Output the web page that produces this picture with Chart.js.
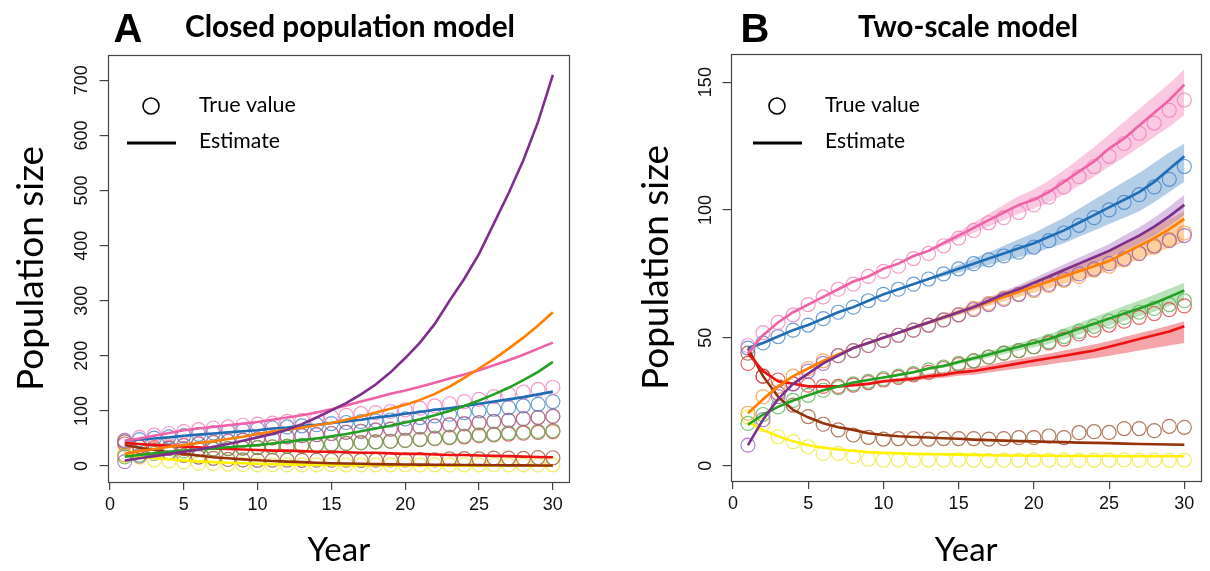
<!DOCTYPE html>
<html><head><meta charset="utf-8">
<script src="https://cdn.jsdelivr.net/npm/chart.js@4.4.1/dist/chart.umd.min.js"></script>
<style>
html,body{margin:0;padding:0;background:#fff;}
#wrap{position:relative;width:1210px;height:571px;overflow:hidden;background:#fff;}
canvas{position:absolute;top:0;}
</style></head><body>
<div id="wrap">
<canvas id="cA" width="605" height="571" style="left:0;width:605px;height:571px"></canvas>
<canvas id="cB" width="605" height="571" style="left:605px;width:605px;height:571px"></canvas>
</div>
<script>
// ---------- data ----------
const years = [1,2,3,4,5,6,7,8,9,10,11,12,13,14,15,16,17,18,19,20,21,22,23,24,25,26,27,28,29,30];
const xTicks = [0,5,10,15,20,25,30];
const yTicksA = [0,100,200,300,400,500,600,700];
const yTicksB = [0,50,100,150];

// true population sizes (circles, same in both panels)
const pinkTrue   = [47,52,56,59,63,66,69,71,74,76,78,81,83,86,89,92,95,97,99,102,105,109,113,117,121,126,130,134,139,143];
const blueTrue   = [46,48,50.5,53,55,57.5,60,62,64.5,67,69,71,73,75,77,79,80.5,82,83.5,85.5,88,91,94,97,100,103,106,109,112,117];
const purpleTrue = [8,18,27,32,37,40,43,45,47,49,51,53,55,57,59,61,63,65,67,69,71,73,75,77,79,81,83,86,88,90];
const orangeTrue = [20.5,27,31,35,38,41,43,45,47,49,51,53,55,57,59,61.5,63.5,65.5,67,68.5,70.5,72.5,74,76.5,78,80.5,83,85.5,88.5,91];
const greenTrue  = [16.5,20,23,25.5,27.5,29.5,30.5,32,33,34,35,36,37.5,38.5,40,41,42.5,44,45,46.5,48.5,50.5,52.5,54.5,56.5,58,60,61.5,63,64.5];
const redTrue    = [40,35,33.5,32,31.5,31,31,31.5,32.5,33.5,34.5,35.5,36.5,38,39.5,41,42.5,44,45,46.5,48,49.5,51.5,53,55,56.5,58,59.5,61,62.5];
const brownTrue  = [44,35,28.3,23.7,19.2,16.2,14,12,11.1,10.4,10.6,10.6,10.4,10.6,10.6,10.6,10.4,10.6,11,11,11.6,11,12.9,13.3,13,14.5,14.5,13.7,15.4,15];
const yellowTrue = [19,16,11.3,9.4,7.4,4.8,4.8,3.5,2.5,2.2,2.3,2.1,2.2,2.2,2.3,2.2,2.1,2.2,2.2,2.3,2.2,2.2,2.1,2.2,2.2,2.3,2.2,2.2,2.1,2.2];

// panel A estimates (closed population model)
const pinkA   = [46,50,55,60,65,68,71,74,77,80,84,88,92,97,103,110,117,124,131,137,144,151,159,166,174,183,192,202,213,224];
const blueA   = [46,48,50,52,55,57,59,61,63,65,68,70,73,75,78,81,84,88,91,95,98,102,105,109,113,117,121,125,130,135];
const purpleA = [10,14,18,22,26,30,35,40,46,52,58,66,76,88,101,114,130,148,170,196,224,258,300,340,385,440,495,555,625,710];
const orangeA = [22,27,31,35,38,42,45,49,53,58,62,66,70,74,78,84,90,97,104,111,120,131,144,160,177,194,213,233,255,279];
const greenA  = [17,20,23,26,28,30,32,34,36,38,41,44,47,50,54,58,63,68,73,79,85,92,100,109,119,130,142,156,171,189];
const redA    = [42,40,38,37,35,34,32,31,30,29,28,28,27,26,26,25,24,24,23,22,22,21,20,20,19,18.5,18,17,16.5,16];
const brownA  = [38,33,29,25,22,19,16,14,12,10.5,9,8,7,6,5,4.5,4,3.5,3,2.8,2.5,2.2,2,1.8,1.6,1.4,1.2,1.1,1,0.9];
const yellowA = [20,17,14,12,10,8.5,7,6,5,4,3.5,3,2.5,2,1.8,1.6,1.4,1.3,1.2,1.1,1,0.9,0.8,0.8,0.7,0.7,0.6,0.6,0.5,0.5];

// panel B estimates (two-scale model) with credible band
const pinkB     = [44,51,56,60,63,66,69,72,74,77,79,82,84,87,90,93,96,99,102,104,107,111,115,119,124,128,133,138,143,149];
const pinkBlo   = [43.5,50.5,55.5,59.5,62.5,65.5,68.5,71.5,73.5,76.5,78.5,81.5,83.5,86,88.5,91,93.5,96,98.5,100.5,103,106,109.5,113,117,120.5,124.5,128.5,132.5,137];
const pinkBhi   = [44.5,51.5,56.5,60.5,63.5,66.5,69.5,72.5,74.5,77.5,79.5,82.5,84.5,88,91.5,95,98.5,102,105.5,108,111.5,115.5,120,124.5,129.5,134.5,139.5,144.5,149.5,155];
const blueB     = [46,48,50.5,53,55,57.5,60,62,64.5,67,69,71,73,75,77,79,81,83,85,87,89.5,92,95,98,101,104,107,111,116,121];
const blueBlo   = [45.5,47.5,50,52.5,54.5,57,59.5,61.5,64,66.5,68.5,70.5,72.5,74,75.5,77,78.5,80,81.5,83,85,87,89.5,92,94.5,97,99.5,103,107,111];
const blueBhi   = [46.5,48.5,51,53.5,55.5,58,60.5,62.5,65,67.5,69.5,71.5,73.5,76,78.5,81,83.5,86,88.5,91,94,97,100.5,104,107.5,111,114.5,118.5,122.5,126];
const purpleB   = [8,18,26,32,36,40,43,46,48,50,52,54,56,58,60,62,64.5,67,69,71.5,74,76.5,79,81.5,84,87,90,93.5,97.5,102];
const purpleBlo = [7.5,17.5,25.5,31.5,35.5,39.5,42.5,45.5,47.5,49.5,51.5,53.5,55.5,57.3,59.2,61,63.3,65.6,67.4,69.7,72,74.3,76.6,79,81.3,84,86.8,90,93.7,98];
const purpleBhi = [8.5,18.5,26.5,32.5,36.5,40.5,43.5,46.5,48.5,50.5,52.5,54.5,56.5,58.7,60.8,63,65.7,68.4,70.6,73.3,76,78.7,81.4,84,86.7,90,93.2,97,101.3,106];
const orangeB   = [20.5,26,31,35,38,41,43.5,46,48,50,52,54,56,58,60,62,64,66,68,70,72,74,76,78,80,83,86,89,92.5,96.5];
const orangeBlo = [20,25.5,30.5,34.5,37.5,40.5,43,45.5,47.5,49.5,51.5,53.3,55.2,57,58.8,60.6,62.4,64.2,66,67.6,69.2,71,72.6,74.4,76.2,78.6,80.8,83,85.2,87.5];
const orangeBhi = [21,26.5,31.5,35.5,38.5,41.5,44,46.5,48.5,50.5,52.5,54.7,56.8,59,61.2,63.4,65.6,67.8,70,72.4,74.8,77.2,79.6,82,84.4,87.6,90.6,93.6,96.4,99.5];
const greenB    = [16,20,23,25.5,27.5,29.5,31,32.5,33.5,34.5,35.5,36.5,38,39,40.5,42,43.5,45,46.5,48,49.5,51.5,53.5,55.5,57.5,59.5,61.5,63.5,66,68.5];
const greenBlo  = [15.7,19.7,22.7,25.2,27.2,29.2,30.7,32.2,33.2,34.2,35.1,36,37.4,38.3,39.7,41,42.3,43.6,45,46.3,47.6,49.4,51.2,53,54.8,56.6,58.4,60.2,62.4,64.5];
const greenBhi  = [16.3,20.3,23.3,25.8,27.8,29.8,31.3,32.8,33.8,34.8,35.9,37,38.6,39.7,41.3,43,44.7,46.4,48,49.7,51.4,53.6,55.8,58,60.2,62.4,64.6,66.8,69.2,71.5];
const redB      = [44,37,33,32,31,31,31,31.5,32,33,33.5,34,35,35.5,36.5,37,38,39,40,41,42,43,44,45,46.5,48,49.5,51,52.5,54.5];
const redBlo    = [43.5,36.6,32.6,31.6,30.6,30.6,30.6,31,31.4,32.3,32.7,33.1,34,34.4,35.2,35.6,36.4,37.2,38,38.8,39.6,40.4,41.2,42,43,44,45,46,47,48];
const redBhi    = [44.5,37.4,33.4,32.4,31.4,31.4,31.4,32,32.6,33.7,34.3,34.9,36,36.6,37.8,38.4,39.5,40.6,41.7,42.8,43.9,45,46.2,47.4,48.8,50.3,51.8,53.3,54.8,56.5];
const brownB    = [45.9,35,27,21.8,18.9,16.6,15,14,12.7,12,11.5,11.2,11,10.7,10.5,10.2,10,9.8,9.6,9.5,9.3,9.2,9,8.9,8.8,8.6,8.5,8.4,8.3,8.2];
const yellowB   = [17,14,11.5,9.5,8,7,6.3,5.8,5.3,5,4.8,4.6,4.5,4.4,4.3,4.2,4.1,4,4,3.9,3.9,3.8,3.8,3.8,3.8,3.7,3.7,3.7,3.7,3.7];

// ---------- styles ----------
const COL = {
  pink:   {line:'#F062A8', pt:'rgba(240,120,185,0.75)', band:'rgba(240,110,175,0.38)'},
  blue:   {line:'#1F6DB5', pt:'rgba(60,125,195,0.75)',  band:'rgba(40,115,190,0.35)'},
  purple: {line:'#7E2F8E', pt:'rgba(150,90,180,0.75)',  band:'rgba(150,80,180,0.35)'},
  orange: {line:'#FF7F00', pt:'rgba(245,150,60,0.8)',   band:'rgba(250,140,30,0.42)'},
  green:  {line:'#22A022', pt:'rgba(90,180,90,0.8)',    band:'rgba(60,175,60,0.35)'},
  red:    {line:'#EE1111', pt:'rgba(220,60,60,0.8)',    band:'rgba(230,40,50,0.42)'},
  brown:  {line:'#96320A', pt:'rgba(165,95,65,0.85)',   band:'rgba(150,50,10,0.3)'},
  yellow: {line:'#FFF200', pt:'rgba(240,235,80,0.9)',   band:'rgba(255,240,0,0.35)'}
};
const TICK_FONT = {family:'"Liberation Sans", Arial, sans-serif', size:18};
const LABEL_FAMILY = 'Lato, "Open Sans", sans-serif';

function pts(arr){ return arr.map((v,i)=>({x:years[i], y:v})); }
function lineDs(arr, c){ return {type:'line', data:pts(arr), borderColor:c.line, borderWidth:2.6, pointRadius:0, fill:false, tension:0, order:0}; }
function circDs(arr, c){ return {type:'line', data:pts(arr), showLine:false, pointRadius:7, pointBorderWidth:1.2, pointBorderColor:c.pt, pointBackgroundColor:'rgba(0,0,0,0)', order:5}; }
function bandDs(lo, hi, c){
  return [
    {type:'line', data:pts(lo), borderWidth:0, pointRadius:0, fill:false, order:10, backgroundColor:'rgba(0,0,0,0)'},
    {type:'line', data:pts(hi), borderWidth:0, pointRadius:0, fill:'-1', order:10, backgroundColor:c.band}
  ];
}

function fitFont(ctx, text, weight, family, targetW){
  ctx.font = weight + ' 40px ' + family;
  const w = ctx.measureText(text).width;
  const size = 40 * targetW / w;
  ctx.font = weight + ' ' + size.toFixed(2) + 'px ' + family;
}
// draw text at a given font size, horizontally squeezed to a target width
function squeezeText(ctx, text, font, cx, y, targetW){
  ctx.font = font;
  const w = ctx.measureText(text).width;
  const k = Math.min(1, targetW / w);
  ctx.save();
  ctx.translate(cx, y); ctx.scale(k, 1);
  ctx.textAlign = 'center';
  ctx.fillText(text, 0, 0);
  ctx.restore();
}

function decoPlugin(cfg){
  return {
    id:'deco',
    afterDraw(chart){
      const ctx = chart.ctx, a = chart.chartArea;
      ctx.save();
      ctx.strokeStyle = '#444'; ctx.lineWidth = 1.2;
      ctx.strokeRect(Math.round(a.left)+0.5, Math.round(a.top)+0.5, Math.round(a.right-a.left)-1, Math.round(a.bottom-a.top));
      ctx.fillStyle = '#000';
      ctx.textBaseline = 'alphabetic'; ctx.textAlign = 'center';
      ctx.font = 'bold 40px "Liberation Sans", Arial, sans-serif';
      ctx.fillText(cfg.letter, cfg.letterX, 42);
      squeezeText(ctx, cfg.title, 'bold 31px ' + LABEL_FAMILY, cfg.titleX, 37, cfg.titleW);
      // legend
      ctx.strokeStyle = '#000'; ctx.lineWidth = 1.6;
      ctx.beginPath(); ctx.arc(cfg.legX, cfg.legY1, 8, 0, Math.PI*2); ctx.stroke();
      ctx.lineWidth = 2.8;
      ctx.beginPath(); ctx.moveTo(cfg.legX-24, cfg.legY2); ctx.lineTo(cfg.legX+25, cfg.legY2); ctx.stroke();
      ctx.textAlign = 'left'; ctx.textBaseline = 'middle';
      fitFont(ctx, 'True value', 'normal', LABEL_FAMILY, cfg.tvW);
      ctx.fillText('True value', cfg.legTextX, cfg.legY1 - 1);
      fitFont(ctx, 'Estimate', 'normal', LABEL_FAMILY, cfg.esW);
      ctx.fillText('Estimate', cfg.legTextX, cfg.legY2 - 2);
      ctx.restore();
    }
  };
}

function makeChart(id, datasets, o){
  return new Chart(document.getElementById(id), {
    type:'line',
    data:{datasets},
    options:{
      responsive:false, animation:false, events:[],
      layout:{padding:{left:0, top:o.top, right:o.padRight, bottom:0}},
      plugins:{legend:{display:false}, tooltip:{enabled:false}, title:{display:false}},
      scales:{
        x:{type:'linear', min:-0.16, max:31.16,
           afterBuildTicks:s=>{ s.ticks = xTicks.map(v=>({value:v})); },
           afterFit:s=>{ s.height = o.xAxisH; },
           grid:{display:true, drawOnChartArea:false, drawTicks:true, tickLength:8, color:'#444', lineWidth:1.2},
           border:{display:false},
           ticks:{color:'#111', font:TICK_FONT, padding:o.xTickPad, maxRotation:0, minRotation:0, autoSkip:false},
           title:{display:true, text:'Year', color:'#000', font:{family:LABEL_FAMILY, size:33}, padding:{top:0, bottom:1}}
        },
        y:{type:'linear', min:o.yMin, max:o.yMax,
           afterBuildTicks:s=>{ s.ticks = o.yTicks.map(v=>({value:v})); },
           afterFit:s=>{ s.width = o.yAxisW; },
           grid:{display:true, drawOnChartArea:false, drawTicks:true, tickLength:8, color:'#444', lineWidth:1.2},
           border:{display:false},
           ticks:{color:'#111', font:TICK_FONT, padding:o.yTickPad, minRotation:90, maxRotation:90, crossAlign:'center', autoSkip:false},
           title:{display:true, text:'Population size', color:'#000', font:{family:LABEL_FAMILY, size:37}, padding:{top:o.yTitlePad, bottom:0}}
        }
      }
    },
    plugins:[decoPlugin(o.deco)]
  });
}

// ---------- panel A ----------
const dsA = [
  lineDs(purpleA, COL.purple), lineDs(orangeA, COL.orange), lineDs(pinkA, COL.pink), lineDs(greenA, COL.green),
  lineDs(blueA, COL.blue), lineDs(redA, COL.red), lineDs(brownA, COL.brown), lineDs(yellowA, COL.yellow),
  circDs(pinkTrue, COL.pink), circDs(blueTrue, COL.blue), circDs(purpleTrue, COL.purple), circDs(orangeTrue, COL.orange),
  circDs(greenTrue, COL.green), circDs(redTrue, COL.red), circDs(brownTrue, COL.brown), circDs(yellowTrue, COL.yellow)
];
makeChart('cA', dsA, {
  top:55, padRight:35, xAxisH:89, yAxisW:107.6, yMin:-29, yMax:746, yTicks:yTicksA,
  xTickPad:4, yTickPad:2.5, yTitlePad:9,
  deco:{letter:'A', letterX:128, title:'Closed population model', titleX:350, titleW:330,
        legX:151, legY1:106, legY2:143, legTextX:199, tvW:97, esW:81}
});

// ---------- panel B ----------
const dsB = [
  lineDs(pinkB, COL.pink), lineDs(blueB, COL.blue), lineDs(purpleB, COL.purple), lineDs(orangeB, COL.orange),
  lineDs(greenB, COL.green), lineDs(redB, COL.red), lineDs(brownB, COL.brown), lineDs(yellowB, COL.yellow),
  circDs(pinkTrue, COL.pink), circDs(blueTrue, COL.blue), circDs(purpleTrue, COL.purple), circDs(orangeTrue, COL.orange),
  circDs(greenTrue, COL.green), circDs(redTrue, COL.red), circDs(brownTrue, COL.brown), circDs(yellowTrue, COL.yellow),
  ...bandDs(pinkBlo, pinkBhi, COL.pink), ...bandDs(blueBlo, blueBhi, COL.blue), ...bandDs(purpleBlo, purpleBhi, COL.purple),
  ...bandDs(orangeBlo, orangeBhi, COL.orange), ...bandDs(greenBlo, greenBhi, COL.green), ...bandDs(redBlo, redBhi, COL.red)
];
makeChart('cB', dsB, {
  top:54, padRight:8, xAxisH:90, yAxisW:125.5, yMin:-6, yMax:161, yTicks:yTicksB,
  xTickPad:4, yTickPad:1, yTitlePad:29,
  deco:{letter:'B', letterX:150, title:'Two-scale model', titleX:363, titleW:220,
        legX:172, legY1:106, legY2:143, legTextX:220, tvW:95, esW:80}
});
</script>
</body></html>
